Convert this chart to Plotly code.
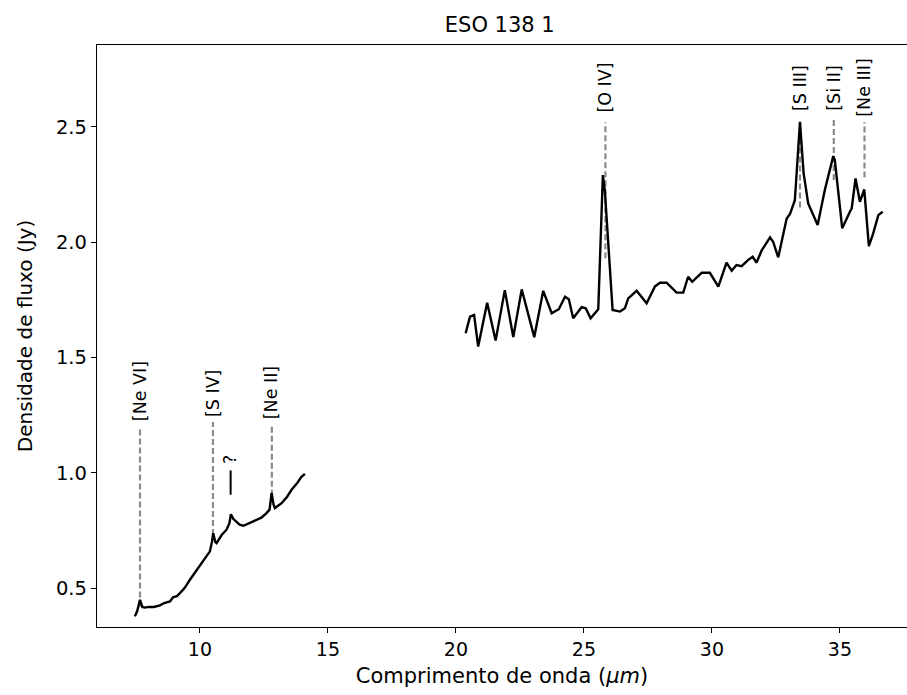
import plotly.graph_objects as go

# Short-wavelength segment
wl_short = [7.46, 7.55, 7.66, 7.75, 7.85, 8.0, 8.2, 8.44, 8.6, 8.83, 8.95, 9.1, 9.22, 9.4, 9.61,
            9.8, 10.0, 10.2, 10.39, 10.47, 10.52, 10.6, 10.65, 10.85, 11.04, 11.15, 11.21, 11.3,
            11.43, 11.55, 11.7, 11.9, 12.05, 12.22, 12.4, 12.6, 12.72, 12.8, 12.88, 12.93, 13.05,
            13.19, 13.4, 13.58, 13.8, 13.95, 14.1]
flux_short = [0.377, 0.40, 0.449, 0.418, 0.415, 0.418, 0.418, 0.425, 0.435, 0.442, 0.46, 0.465,
              0.478, 0.50, 0.536, 0.565, 0.594, 0.625, 0.659, 0.70, 0.738, 0.70, 0.695, 0.73,
              0.753, 0.78, 0.82, 0.80, 0.789, 0.775, 0.77, 0.78, 0.785, 0.796, 0.805, 0.825,
              0.84, 0.912, 0.86, 0.847, 0.855, 0.868, 0.895, 0.926, 0.955, 0.98, 0.995]

# Long-wavelength segment
wl_long = [20.38, 20.55, 20.71, 20.87, 21.22, 21.55, 21.91, 22.24, 22.57, 23.06, 23.41, 23.74,
           24.02, 24.26, 24.41, 24.58, 24.91, 25.07, 25.26, 25.56, 25.74, 25.82, 26.12,
           26.41, 26.60, 26.73, 27.06, 27.45, 27.77, 27.97, 28.23, 28.62, 28.88, 29.07, 29.23,
           29.60, 29.92, 30.25, 30.57, 30.77, 30.96, 31.16, 31.42, 31.59, 31.74, 31.94, 32.27,
           32.39, 32.59, 32.92, 33.05, 33.24, 33.44, 33.58, 33.76, 34.13, 34.41, 34.74, 34.80,
           35.09, 35.39, 35.46, 35.61, 35.78, 35.95, 36.13, 36.30, 36.50, 36.67]
flux_long = [1.605, 1.677, 1.684, 1.547, 1.737, 1.573, 1.792, 1.588, 1.795, 1.588, 1.789, 1.692,
             1.709, 1.763, 1.752, 1.670, 1.718, 1.713, 1.670, 1.709, 2.291, 2.22, 1.706,
             1.699, 1.713, 1.756, 1.789, 1.735, 1.807, 1.824, 1.824, 1.781, 1.781, 1.850, 1.828,
             1.867, 1.867, 1.807, 1.911, 1.876, 1.901, 1.896, 1.923, 1.937, 1.911, 1.963, 2.021,
             2.002, 1.934, 2.103, 2.122, 2.182, 2.522, 2.30, 2.168, 2.074, 2.226, 2.373, 2.356,
             2.060, 2.132, 2.146, 2.276, 2.175, 2.229, 1.983, 2.038, 2.117, 2.132]

# Identified lines
line_names = ["[Ne VI]", "[S IV]", "[Ne II]", "[O IV]", "[S III]", "[Si II]", "[Ne III]"]
line_wl = [7.66, 10.51, 12.81, 25.84, 33.44, 34.76, 35.96]
line_ymin = [0.42, 0.73, 0.90, 1.93, 2.15, 2.27, 2.28]
line_ymax = [1.20, 1.22, 1.20, 2.52, 2.52, 2.53, 2.52]
label_y = [1.215, 1.235, 1.225, 2.555, 2.56, 2.56, 2.535]

# Unidentified feature
unk_wl = 11.2
unk_ymin, unk_ymax = 0.905, 1.01
unk_label_y = 1.03

fig = go.Figure()

for i in range(len(line_names)):
    fig.add_trace(go.Scatter(x=[line_wl[i], line_wl[i]], y=[line_ymin[i], line_ymax[i]],
                             mode="lines", line=dict(color="#8a8a8a", width=2.2, dash="6px,3px"),
                             showlegend=False, hoverinfo="skip"))

fig.add_trace(go.Scatter(x=[unk_wl, unk_wl], y=[unk_ymin, unk_ymax], mode="lines",
                         line=dict(color="black", width=2), showlegend=False, hoverinfo="skip"))

fig.add_trace(go.Scatter(x=wl_short, y=flux_short, mode="lines",
                         line=dict(color="black", width=2.4), showlegend=False))
fig.add_trace(go.Scatter(x=wl_long, y=flux_long, mode="lines",
                         line=dict(color="black", width=2.4), showlegend=False))

font_main = "DejaVu Sans"
for i in range(len(line_names)):
    fig.add_annotation(x=line_wl[i], y=label_y[i], text=line_names[i], textangle=-90,
                       showarrow=False, xanchor="center", yanchor="bottom",
                       font=dict(family=font_main, size=17.5, color="black"))
fig.add_annotation(x=unk_wl, y=unk_label_y, text="?", textangle=-90, showarrow=False,
                   xanchor="center", yanchor="bottom",
                   font=dict(family=font_main, size=17.5, color="black"))

fig.update_layout(
    width=907, height=695,
    margin=dict(l=97, r=0, t=45, b=68),
    plot_bgcolor="white", paper_bgcolor="white",
    font=dict(family=font_main, size=19, color="black"),
    title=dict(text="ESO 138 1", x=0.551, xanchor="center", y=0.965, yanchor="middle",
               font=dict(family=font_main, size=21, color="black")),
)
fig.update_xaxes(range=[5.98, 37.62], tickvals=[10, 15, 20, 25, 30, 35],
                 ticks="outside", ticklen=5, tickwidth=1.2, tickcolor="black",
                 showline=True, linecolor="black", linewidth=1.3, mirror=True,
                 showgrid=False, zeroline=False, tickfont=dict(size=19), automargin=False,
                 title=dict(text="Comprimento de onda (<i>μm</i>)", standoff=9,
                            font=dict(family=font_main, size=21)))
fig.update_yaxes(range=[0.331, 2.855], tickvals=[0.5, 1.0, 1.5, 2.0, 2.5],
                 ticktext=["0.5", "1.0", "1.5", "2.0", "2.5"],
                 ticks="outside", ticklen=5, tickwidth=1.2, tickcolor="black",
                 showline=True, linecolor="black", linewidth=1.3, mirror=False,
                 showgrid=False, zeroline=False, tickfont=dict(size=19.5), automargin=False,
                 title=dict(text="Densidade de fluxo (Jy)", standoff=17,
                            font=dict(family=font_main, size=20)))

fig.write_html("out.html")
